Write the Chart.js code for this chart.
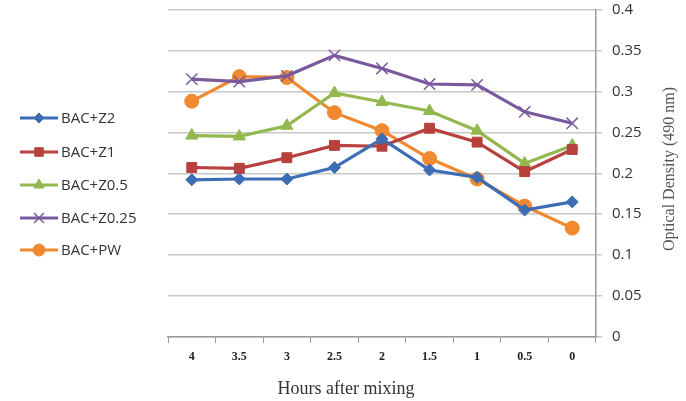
<!DOCTYPE html>
<html>
<head>
<meta charset="utf-8">
<script src="https://cdn.jsdelivr.net/npm/chart.js@4.4.1/dist/chart.umd.min.js"></script>
<style>
  html, body { margin: 0; padding: 0; background: #fff; }
  #wrap { width: 686px; height: 401px; position: relative; }
</style>
</head>
<body>
<div id="wrap"><canvas id="chart"></canvas></div>
<script>
// Hours after mixing (categories, shown reversed as in the original)
const hours = ['4', '3.5', '3', '2.5', '2', '1.5', '1', '0.5', '0'];

// Optical density at 490 nm
const bacZ2   = [0.192, 0.193, 0.193, 0.207, 0.242, 0.204, 0.195, 0.155, 0.165];
const bacZ1   = [0.207, 0.206, 0.219, 0.234, 0.233, 0.255, 0.238, 0.202, 0.229];
const bacZ05  = [0.246, 0.245, 0.258, 0.298, 0.287, 0.276, 0.252, 0.212, 0.234];
const bacZ025 = [0.315, 0.312, 0.319, 0.344, 0.328, 0.309, 0.308, 0.275, 0.261];
const bacPW   = [0.288, 0.318, 0.317, 0.274, 0.252, 0.218, 0.193, 0.160, 0.133];

const seriesNames = ['BAC+Z2', 'BAC+Z1', 'BAC+Z0.5', 'BAC+Z0.25', 'BAC+PW'];

const PLOT_LEFT = 168, PLOT_RIGHT = 596, PLOT_TOP = 7, PLOT_BOTTOM = 337;
const W = 686, H = 401;

function series(label, data, color, style, radius) {
    return {
        label, data,
        borderColor: color,
        backgroundColor: color,
        borderWidth: 3.2,
        pointStyle: style,
        pointRadius: radius,
        pointBorderWidth: style === 'crossRot' ? 1.5 : 1,
        pointBackgroundColor: color,
        pointBorderColor: color,
        tension: 0
    };
}

const datasets = [
    series(seriesNames[0], bacZ2,   '#3d6db5', 'rectRot', 6),
    series(seriesNames[1], bacZ1,   '#b8403d', 'rect', 7),
    series(seriesNames[2], bacZ05,  '#93b84f', 'triangle', 7),
    series(seriesNames[3], bacZ025, '#7a5a9e', 'crossRot', 8),
    series(seriesNames[4], bacPW,   '#f0892f', 'circle', 7)
];

// legend + axis titles drawn by hand to match the Excel look
const decorPlugin = {
    id: 'decor',
    afterDraw(chart) {
        const { ctx } = chart;
        ctx.save();
        const ys = [118, 152, 185, 218, 250];
        chart.data.datasets.forEach((ds, i) => {
            const y = ys[i];
            ctx.strokeStyle = ds.borderColor;
            ctx.lineWidth = 3;
            ctx.beginPath();
            ctx.moveTo(20, y);
            ctx.lineTo(58, y);
            ctx.stroke();
            ctx.fillStyle = ds.borderColor;
            ctx.lineWidth = ds.pointBorderWidth;
            Chart.helpers.drawPoint(ctx, { pointStyle: ds.pointStyle, radius: ds.pointRadius - 1, rotation: 0, borderWidth: ds.pointBorderWidth }, 39, y);
            ctx.fillStyle = '#333';
            ctx.font = '15px "Open Sans", sans-serif';
            ctx.textAlign = 'left';
            ctx.textBaseline = 'middle';
            ctx.fillText(ds.label, 61, y + 1);
        });

        ctx.fillStyle = '#333';
        ctx.font = '18px "Liberation Serif", serif';
        ctx.textAlign = 'center';
        ctx.textBaseline = 'middle';
        ctx.fillText('Hours after mixing', 346, 389);

        ctx.translate(670, 169);
        ctx.rotate(-Math.PI / 2);
        ctx.font = '16px "Liberation Serif", serif';
        ctx.fillStyle = '#555';
        ctx.fillText('Optical Density (490 nm)', 0, 0);
        ctx.restore();
    }
};

new Chart(document.getElementById('chart'), {
    type: 'line',
    plugins: [decorPlugin],
    data: { labels: hours, datasets },
    options: {
        responsive: true,
        maintainAspectRatio: false,
        animation: false,
        layout: { padding: { left: PLOT_LEFT, top: PLOT_TOP, right: 0, bottom: 0 } },
        plugins: { legend: { display: false }, tooltip: { enabled: false } },
        scales: {
            x: {
                offset: true,
                afterFit(scale) { scale.height = H - PLOT_BOTTOM; },
                grid: {
                    offset: true,
                    drawOnChartArea: false,
                    drawTicks: true,
                    tickLength: 6,
                    color: '#999'
                },
                border: { display: true, color: '#999', width: 1.5 },
                ticks: {
                    color: '#222',
                    padding: 7,
                    maxRotation: 0,
                    font: { family: '"Liberation Serif", serif', size: 12, weight: 'bold' }
                }
            },
            y: {
                position: 'right',
                min: 0,
                max: 0.4,
                afterFit(scale) {
                    scale.width = W - PLOT_RIGHT;
                    scale.paddingTop = 0;
                    scale.paddingBottom = 0;
                },
                grid: {
                    color: '#c8c8c8',
                    lineWidth: 1.5,
                    drawTicks: true,
                    tickLength: 6
                },
                border: { display: true, color: '#999', width: 1.5 },
                ticks: {
                    stepSize: 0.05,
                    padding: 10,
                    color: '#333',
                    font: { family: '"Open Sans", sans-serif', size: 15 },
                    callback: (v) => String(Number(v.toFixed(2)))
                }
            }
        }
    }
});
</script>
</body>
</html>
